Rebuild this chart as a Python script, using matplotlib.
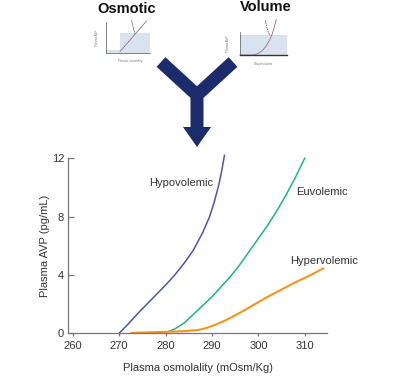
import matplotlib
matplotlib.use("Agg")
import matplotlib.pyplot as plt
from matplotlib.patches import Polygon, Rectangle

plt.rcParams["font.family"] = ["Liberation Sans", "DejaVu Sans"]

# main chart: AVP vs osmolality for three volume states
hypo_x = [270, 272, 274, 276, 278, 280, 282, 284, 286, 288, 289.5, 290.5, 291.5, 292.2, 292.7]
hypo_y = [0, 0.65, 1.35, 2.0, 2.65, 3.3, 4.0, 4.8, 5.7, 6.9, 8.0, 9.0, 10.2, 11.3, 12.2]
euvo_x = [280.5, 282, 284, 286, 288, 290, 292, 294, 296, 298, 300, 302, 304, 306, 308, 310]
euvo_y = [0.1, 0.3, 0.7, 1.3, 1.9, 2.5, 3.2, 3.9, 4.7, 5.6, 6.5, 7.4, 8.4, 9.5, 10.7, 12.0]
hyper_x = [272.7, 276, 280, 284, 287, 289, 291, 293, 296, 299, 302, 305, 308, 311, 314]
hyper_y = [0.03, 0.06, 0.1, 0.15, 0.22, 0.38, 0.62, 0.9, 1.4, 1.95, 2.5, 3.0, 3.5, 3.95, 4.45]

xticks = [260, 270, 280, 290, 300, 310]
yticks = [0, 4, 8, 12]

# thumbnails (axes-fraction units)
osm_line_x = [0.32, 0.92]
osm_line_y = [0.05, 1.03]
osm_dash_x = [0.58, 0.61, 0.63, 0.66]
osm_dash_y = [1.05, 0.88, 0.75, 0.63]
vol_curve_x = [0.0, 0.28, 0.38, 0.48, 0.56, 0.63, 0.68, 0.73, 0.77]
vol_curve_y = [0.0, 0.0, 0.06, 0.2, 0.4, 0.65, 0.89, 1.2, 1.55]
vol_dash_x = [0.54, 0.57, 0.6, 0.64]
vol_dash_y = [1.5, 1.2, 1.0, 0.85]

W, H = 419, 376
fig = plt.figure(figsize=(W / 100, H / 100), dpi=100)


def fax(l, t, r, b):
    return fig.add_axes([l / W, 1 - b / H, (r - l) / W, (b - t) / H])


def fxy(pts):
    return [(x / W, 1 - y / H) for x, y in pts]


ax = fax(68.3, 158.3, 327, 333.3)
ax.plot(hypo_x, hypo_y, color="#4a58a8", lw=1.1, clip_on=False)
ax.plot(euvo_x, euvo_y, color="#1db384", lw=1.1, clip_on=False)
ax.plot(hyper_x, hyper_y, color="#f7941d", lw=1.5, clip_on=False)
ax.set_xlim(259.05, 314.8)
ax.set_ylim(0, 12)
ax.set_xticks(xticks)
ax.set_yticks(yticks)
for s in ["top", "right"]:
    ax.spines[s].set_visible(False)
for s in ["left", "bottom"]:
    ax.spines[s].set_color("#777777")
    ax.spines[s].set_linewidth(0.9)
ax.tick_params(axis="y", direction="in", length=4, width=0.9, color="#777777",
               labelsize=8, labelcolor="#333333", pad=3)
ax.tick_params(axis="x", direction="out", length=2.5, width=0.9, color="#777777",
               labelsize=8, labelcolor="#333333", pad=3)
ax.set_xlabel("Plasma osmolality (mOsm/Kg)", fontsize=8, color="#333333")
ax.set_ylabel("Plasma AVP (pg/mL)", fontsize=8, color="#333333")
ax.xaxis.set_label_coords(0.5, -0.17)
ax.yaxis.set_label_coords(-0.072, 0.5)
ax.text(283.3, 10.33, "Hypovolemic", fontsize=8, color="#333333", ha="center", va="center")
ax.text(313.8, 9.71, "Euvolemic", fontsize=8, color="#333333", ha="center", va="center")
ax.text(314.2, 4.98, "Hypervolemic", fontsize=8, color="#333333", ha="center", va="center")

# Y-shaped arrow
navy = "#1b2c6c"
arrow = [(165.4, 57.2), (197, 86.2), (228.6, 57.2), (237.4, 66.8), (203.5, 97.9),
         (203.5, 127), (211, 127), (197, 147), (183, 127), (190.5, 127),
         (190.5, 97.9), (156.6, 66.8)]
fig.add_artist(Polygon(fxy(arrow), closed=True, transform=fig.transFigure,
                       facecolor=navy, edgecolor="none"))

fig.text(127 / W, 1 - 9 / H, "Osmotic", fontsize=10.5, fontweight="bold",
         ha="center", va="center", color="#111111")
fig.text(266 / W, 1 - 7 / H, "Volume", fontsize=10.5, fontweight="bold",
         ha="center", va="center", color="#111111")


def thumb(a):
    a.set_xlim(0, 1)
    a.set_ylim(0, 1)
    a.set_xticks([])
    a.set_yticks([])
    for s in ["top", "right"]:
        a.spines[s].set_visible(False)
    for s in ["left", "bottom"]:
        a.spines[s].set_linewidth(0.5)
        a.spines[s].set_color("#555555")
    a.patch.set_alpha(0)


shade = "#d9e3f0"
t1 = fax(106, 22, 150, 53)
thumb(t1)
t1.add_patch(Rectangle((0, 0), 0.32, 0.1, facecolor=shade, edgecolor="none"))
t1.add_patch(Rectangle((0.32, 0), 0.68, 0.63, facecolor=shade, edgecolor="none"))
t1.plot(osm_line_x, osm_line_y, color="#a06a8a", lw=0.6, clip_on=False)
t1.plot(osm_dash_x, osm_dash_y, color="#333333", lw=0.5, ls=(0, (2, 1)), clip_on=False)
t1.text(0.55, -0.3, "Plasma osmolality", fontsize=2.2, color="#777777", ha="center")
t1.text(-0.25, 0.5, "Plasma AVP", fontsize=2.2, color="#777777", rotation=90, va="center")

t2 = fax(240, 32, 287, 55)
thumb(t2)
t2.add_patch(Rectangle((0, 0), 1, 0.89, facecolor=shade, edgecolor="none"))
t2.plot(vol_curve_x, vol_curve_y, color="#a06a8a", lw=0.6, clip_on=False)
t2.plot(vol_dash_x, vol_dash_y, color="#333333", lw=0.5, ls=(0, (2, 1)), clip_on=False)
t2.spines["bottom"].set_linewidth(1.0)
t2.spines["bottom"].set_color("#333333")
t2.text(0.5, -0.45, "Blood volume", fontsize=2.2, color="#777777", ha="center")
t2.text(-0.3, 0.5, "Plasma AVP", fontsize=2.2, color="#777777", rotation=90, va="center")

fig.savefig("out.png", dpi=100)
